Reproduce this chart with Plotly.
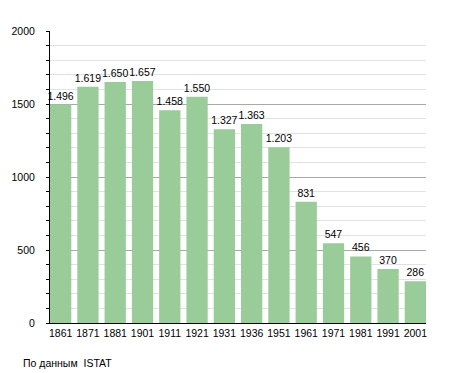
import plotly.graph_objects as go

years = ["1861", "1871", "1881", "1901", "1911", "1921", "1931", "1936", "1951", "1961", "1971", "1981", "1991", "2001"]
population = [1496, 1619, 1650, 1657, 1458, 1550, 1327, 1363, 1203, 831, 547, 456, 370, 286]
value_labels = ["1.496", "1.619", "1.650", "1.657", "1.458", "1.550", "1.327", "1.363", "1.203", "831", "547", "456", "370", "286"]
y_ticks = [0, 500, 1000, 1500, 2000]
source_note = "По данным  ISTAT"

idx = list(range(len(years)))
# page has an 8px body margin; figure origin is at (8, 8)
OFF = 8
W, H = 455 - OFF, 373 - OFF
L = 50 - OFF
T = 31 - OFF
R = W - (426 - OFF)
B = H - (323 - OFF)
PW, PH = W - L - R, H - T - B

FS = 10.5

fig = go.Figure(go.Bar(
    x=idx, y=population, width=0.78,
    marker=dict(color="#99cc99", line=dict(width=0)),
    text=value_labels, textposition="outside", constraintext="none",
    textfont=dict(family="Liberation Sans, Arial", size=FS, color="#000"),
    cliponaxis=False,
))

fig.update_layout(
    width=W, height=H,
    margin=dict(l=L, r=R, t=T, b=B, pad=0, autoexpand=False),
    paper_bgcolor="white", plot_bgcolor="white",
    showlegend=False,
    font=dict(family="Liberation Sans, Arial", size=FS, color="#000"),
    xaxis=dict(
        range=[-0.39, len(years) - 1 + 0.39],
        tickvals=idx, ticktext=years,
        showgrid=False, zeroline=False, automargin=False,
        showline=True, linecolor="#000", linewidth=1,
        ticks="", ticklen=0,
        tickfont=dict(size=FS),
    ),
    yaxis=dict(
        range=[0, 2000],
        tickvals=y_ticks, automargin=False,
        showgrid=True, gridcolor="#a8a8a8", gridwidth=1,
        zeroline=False,
        showline=True, linecolor="#000", linewidth=1,
        ticks="outside", ticklen=3, tickcolor="#000",
        ticklabelstandoff=9,
        tickfont=dict(size=FS),
        minor=dict(dtick=100, showgrid=True, gridcolor="#e2e2e2", gridwidth=1,
                   ticks="outside", ticklen=3, tickcolor="#000"),
    ),
    annotations=[dict(
        text=source_note, xref="paper", yref="paper",
        x=(21 - OFF - L) / PW, y=-(363 - 323) / PH,
        xanchor="left", yanchor="middle", showarrow=False,
        font=dict(size=FS, color="#000"),
    )],
)

fig.write_html("out.html")
